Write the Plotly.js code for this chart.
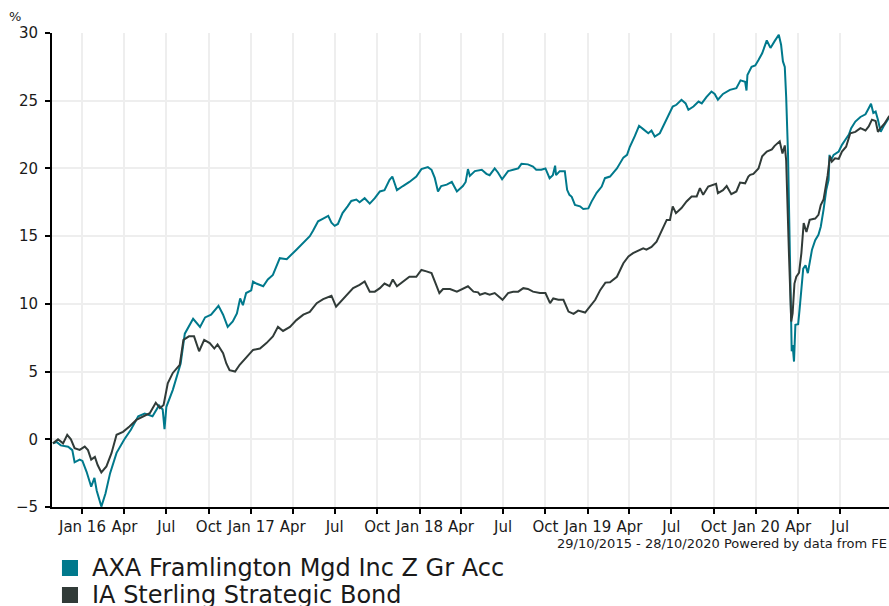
<!DOCTYPE html>
<html>
<head>
<meta charset="utf-8">
<script src="https://cdn.plot.ly/plotly-3.0.1.min.js"></script>
<style>
  html, body { margin: 0; padding: 0; background: #ffffff; }
  #chart { width: 889px; height: 606px; }
</style>
</head>
<body>
<div id="chart"></div>
<script>
// ---- Data ----
const seriesNames = ["AXA Framlington Mgd Inc Z Gr Acc", "IA Sterling Strategic Bond"];
const seriesColors = ["#00798c", "#313b38"];

const datesA = [
"2015-10-29","2015-11-06","2015-11-15","2015-12-01","2015-12-10","2015-12-15","2015-12-26","2016-01-01","2016-01-10","2016-01-20",
"2016-01-27","2016-02-01","2016-02-11","2016-02-20","2016-03-01","2016-03-15","2016-04-01","2016-04-15","2016-05-01","2016-05-15",
"2016-06-01","2016-06-15","2016-06-23","2016-06-27","2016-07-01","2016-07-15","2016-08-01","2016-08-10","2016-08-28","2016-09-12",
"2016-09-23","2016-10-06","2016-10-22","2016-11-01","2016-11-11","2016-11-22","2016-12-01","2016-12-08","2016-12-14","2016-12-21",
"2017-01-01","2017-01-05","2017-01-12","2017-01-27","2017-02-06","2017-02-17","2017-03-04","2017-03-19","2017-04-09","2017-04-24",
"2017-05-08","2017-05-15","2017-05-26","2017-06-06","2017-06-17","2017-06-24","2017-07-01","2017-07-08","2017-07-18","2017-07-29",
"2017-08-06","2017-08-17","2017-08-24","2017-09-04","2017-09-15","2017-09-26","2017-10-07","2017-10-17","2017-10-28","2017-11-03",
"2017-11-13","2017-11-26","2017-12-10","2017-12-25","2018-01-05","2018-01-19","2018-01-27","2018-02-03","2018-02-10","2018-02-17",
"2018-03-01","2018-03-12","2018-03-23","2018-04-05","2018-04-11","2018-04-16","2018-04-20","2018-05-01","2018-05-16","2018-05-26",
"2018-06-02","2018-06-13","2018-06-20","2018-06-29","2018-07-12","2018-07-23","2018-08-03","2018-08-10","2018-08-24","2018-09-04",
"2018-09-11","2018-09-22","2018-10-01","2018-10-10","2018-10-17","2018-10-22","2018-10-24","2018-11-01","2018-11-12","2018-11-17",
"2018-11-22","2018-11-27","2018-12-04","2018-12-15","2018-12-22","2019-01-02","2019-01-09","2019-01-20","2019-01-31","2019-02-07",
"2019-02-18","2019-03-05","2019-03-19","2019-03-27","2019-04-02","2019-04-13","2019-04-22","2019-05-01","2019-05-12","2019-05-19",
"2019-05-26","2019-06-06","2019-06-17","2019-06-24","2019-07-04","2019-07-12","2019-07-23","2019-08-01","2019-08-07","2019-08-18",
"2019-08-29","2019-09-05","2019-09-15","2019-09-26","2019-10-03","2019-10-10","2019-10-21","2019-11-05","2019-11-19","2019-11-28",
"2019-12-08","2019-12-11","2019-12-13","2019-12-22","2019-12-30","2020-01-06","2020-01-14","2020-01-24","2020-02-01","2020-02-10",
"2020-02-19","2020-02-24","2020-02-28","2020-03-03","2020-03-06","2020-03-10","2020-03-13","2020-03-17","2020-03-18","2020-03-20",
"2020-03-23","2020-03-26","2020-04-01","2020-04-04","2020-04-12","2020-04-17","2020-04-22","2020-05-01","2020-05-08","2020-05-15",
"2020-05-20","2020-05-26","2020-06-01","2020-06-06","2020-06-08","2020-06-11","2020-06-17","2020-06-28","2020-07-05","2020-07-12",
"2020-07-20","2020-07-25","2020-08-03","2020-08-14","2020-08-25","2020-09-01","2020-09-06","2020-09-11","2020-09-16","2020-09-21",
"2020-09-27","2020-10-03","2020-10-10","2020-10-15","2020-10-28"
];
const valuesA = [
-0.3,-0.2,-0.45,-0.55,-0.8,-1.7,-1.5,-1.6,-2.4,-3.5,
-2.85,-3.8,-4.97,-4.0,-2.5,-1.0,0.0,0.7,1.7,1.9,
1.7,2.5,2.2,0.75,2.4,3.65,5.6,7.8,8.9,8.3,
9.0,9.2,9.85,9.2,8.3,8.7,9.3,10.4,9.9,10.8,
11.0,11.65,11.5,11.3,11.8,12.14,13.37,13.3,14.0,14.5,
15.0,15.4,16.1,16.3,16.5,16.0,15.76,15.9,16.7,17.2,
17.6,17.7,17.5,17.8,17.4,17.8,18.3,18.4,19.16,19.4,
18.4,18.7,19.0,19.4,19.95,20.1,19.9,19.3,18.3,18.7,
18.8,19.0,18.3,18.7,19.0,19.95,19.45,19.8,19.9,19.6,
19.5,20.0,19.7,19.2,19.8,19.9,20.0,20.34,20.3,20.14,
19.9,19.9,20.0,19.28,19.5,20.2,19.5,19.8,19.8,18.42,
18.05,17.9,17.3,17.2,17.0,17.05,17.55,18.2,18.66,19.28,
19.4,20.0,20.8,21.0,21.6,22.4,23.15,22.9,22.6,22.8,
22.36,22.6,23.35,23.8,24.57,24.7,25.07,24.8,24.33,24.57,
24.94,24.8,25.27,25.68,25.5,25.07,25.5,25.8,25.93,26.5,
26.4,25.75,26.9,27.5,27.6,28.0,28.5,29.45,28.9,29.4,
29.87,29.13,27.9,27.5,25.3,21.1,15.0,8.8,6.5,6.96,
5.74,8.45,8.5,9.56,12.6,12.85,12.27,14.0,14.7,15.1,
15.7,16.94,18.42,19.16,21.0,20.6,21.0,21.25,21.74,22.1,
22.5,22.97,23.46,23.8,24.0,24.45,24.77,24.1,24.2,23.6,
22.7,23.1,23.46,23.76,23.9
];

const datesB = [
"2015-10-29","2015-11-09","2015-11-20","2015-11-29","2015-12-07","2015-12-15","2015-12-26","2016-01-06","2016-01-13","2016-01-20",
"2016-01-28","2016-02-03","2016-02-11","2016-02-22","2016-03-04","2016-03-15","2016-03-29","2016-04-12","2016-04-27","2016-05-11",
"2016-05-26","2016-06-08","2016-06-17","2016-06-25","2016-07-04","2016-07-15","2016-07-30","2016-08-07","2016-08-19","2016-08-30",
"2016-09-03","2016-09-10","2016-09-21","2016-10-03","2016-10-13","2016-10-20","2016-11-01","2016-11-08","2016-11-15","2016-11-27",
"2016-12-07","2016-12-21","2017-01-05","2017-01-20","2017-02-03","2017-02-17","2017-02-28","2017-03-11","2017-03-26","2017-04-09",
"2017-04-24","2017-05-08","2017-05-23","2017-06-06","2017-06-24","2017-07-04","2017-07-15","2017-07-26","2017-08-10","2017-08-24",
"2017-09-04","2017-09-15","2017-09-26","2017-10-07","2017-10-17","2017-10-28","2017-11-04","2017-11-13","2017-11-26","2017-12-10",
"2017-12-25","2018-01-05","2018-01-16","2018-01-27","2018-02-05","2018-02-13","2018-02-21","2018-03-08","2018-03-23","2018-04-05",
"2018-04-16","2018-04-28","2018-05-08","2018-05-12","2018-05-23","2018-06-02","2018-06-13","2018-06-30","2018-07-12","2018-07-23",
"2018-08-03","2018-08-14","2018-08-24","2018-09-04","2018-09-19","2018-10-01","2018-10-11","2018-10-18","2018-10-29","2018-11-09",
"2018-11-20","2018-12-01","2018-12-11","2018-12-26","2019-01-06","2019-01-17","2019-01-28","2019-02-08","2019-02-18","2019-03-05",
"2019-03-19","2019-03-30","2019-04-09","2019-04-24","2019-05-01","2019-05-08","2019-05-19","2019-05-30","2019-06-10","2019-06-21",
"2019-06-28","2019-07-04","2019-07-11","2019-07-23","2019-08-03","2019-08-14","2019-08-25","2019-09-01","2019-09-08","2019-09-19",
"2019-10-06","2019-10-10","2019-10-21","2019-10-29","2019-11-08","2019-11-19","2019-11-27","2019-12-08","2019-12-15","2019-12-19",
"2019-12-26","2020-01-06","2020-01-14","2020-01-24","2020-02-04","2020-02-10","2020-02-21","2020-02-27","2020-03-03","2020-03-06",
"2020-03-12","2020-03-15","2020-03-17","2020-03-20","2020-03-24","2020-03-28","2020-04-03","2020-04-08","2020-04-13","2020-04-19",
"2020-04-26","2020-05-08","2020-05-15","2020-05-20","2020-05-26","2020-06-01","2020-06-04","2020-06-09","2020-06-13","2020-06-20",
"2020-06-28","2020-07-05","2020-07-14","2020-07-23","2020-08-03","2020-08-14","2020-08-25","2020-09-01","2020-09-08","2020-09-16",
"2020-09-21","2020-09-27","2020-10-05","2020-10-15","2020-10-28"
];
const valuesB = [
-0.3,0.0,-0.3,0.33,0.0,-0.66,-0.78,-0.54,-0.8,-1.5,
-1.3,-1.9,-2.45,-2.0,-1.03,0.33,0.55,0.94,1.43,1.7,
1.93,2.7,2.3,2.54,4.14,4.9,5.5,7.34,7.6,7.6,
7.2,6.5,7.34,7.1,6.7,7.0,6.36,5.6,5.1,5.0,
5.5,6.0,6.6,6.7,7.1,7.6,8.3,8.0,8.3,8.8,
9.2,9.4,10.05,10.35,10.6,9.8,10.2,10.67,11.16,11.4,
11.65,10.9,10.9,11.16,11.5,11.3,11.8,11.3,11.65,12.0,
12.0,12.5,12.4,12.27,11.5,10.8,11.1,11.1,10.9,11.1,
11.3,10.9,10.85,10.67,10.8,10.67,10.8,10.3,10.8,10.9,
10.9,11.16,11.1,10.9,10.8,10.8,10.05,10.4,10.3,10.3,
9.43,9.26,9.5,9.36,9.8,10.3,11.03,11.57,11.6,12.0,
13.0,13.5,13.75,14.0,14.1,14.0,14.2,14.6,15.34,16.2,
16.2,17.2,16.7,17.07,17.56,17.93,17.93,18.55,18.05,18.66,
18.86,18.18,18.4,18.7,18.1,18.3,18.96,18.9,19.4,19.53,
19.6,20.0,20.9,21.25,21.4,21.67,22.0,21.1,21.7,20.6,
13.75,10.8,8.7,9.3,11.5,12.0,12.3,13.75,15.96,15.3,
16.2,16.3,16.57,17.3,17.7,18.9,19.5,20.9,20.5,20.75,
20.7,21.25,21.6,22.6,22.7,22.97,22.8,23.1,23.6,23.5,
22.7,23.0,23.3,23.84,23.9
];

const tickDates = [
"2016-01-01","2016-04-01","2016-07-01","2016-10-01",
"2017-01-01","2017-04-01","2017-07-01","2017-10-01",
"2018-01-01","2018-04-01","2018-07-01","2018-10-01",
"2019-01-01","2019-04-01","2019-07-01","2019-10-01",
"2020-01-01","2020-04-01","2020-07-01"
];
const tickLabels = [
"Jan 16","Apr","Jul","Oct",
"Jan 17","Apr","Jul","Oct",
"Jan 18","Apr","Jul","Oct",
"Jan 19","Apr","Jul","Oct",
"Jan 20","Apr","Jul"
];
const yTicks = [-5, 0, 5, 10, 15, 20, 25, 30];
const periodText = "29/10/2015 - 28/10/2020 Powered by data from FE";
const yUnit = "%";

// ---- Chart ----
const FONT = "DejaVu Sans, Verdana, sans-serif";

const traces = [
  { x: datesA, y: valuesA, name: seriesNames[0], type: "scatter", mode: "lines",
    line: { color: seriesColors[0], width: 2 }, showlegend: false, hoverinfo: "skip" },
  { x: datesB, y: valuesB, name: seriesNames[1], type: "scatter", mode: "lines",
    line: { color: seriesColors[1], width: 2 }, showlegend: false, hoverinfo: "skip" }
];

const layout = {
  width: 889, height: 606,
  margin: { l: 52, r: 0, t: 33, b: 99, pad: 0 },
  paper_bgcolor: "#ffffff", plot_bgcolor: "#ffffff",
  font: { family: FONT, color: "#1a1a1a" },
  showlegend: false,
  xaxis: {
    type: "date",
    range: ["2015-10-27", "2020-10-15"],
    tickmode: "array", tickvals: tickDates, ticktext: tickLabels,
    ticks: "outside", ticklen: 5, tickwidth: 2, tickcolor: "#000000",
    showline: true, linecolor: "#000000", linewidth: 2,
    showgrid: true, gridcolor: "#eeeeee", gridwidth: 2,
    zeroline: false, automargin: false,
    tickfont: { family: FONT, size: 15, color: "#1a1a1a" }
  },
  yaxis: {
    range: [-5, 30],
    tickmode: "array", tickvals: yTicks,
    ticks: "outside", ticklen: 5, tickwidth: 2, tickcolor: "#000000",
    ticklabelstandoff: 4,
    showline: true, linecolor: "#000000", linewidth: 2,
    showgrid: true, gridcolor: "#eeeeee", gridwidth: 2,
    zeroline: false, automargin: false,
    tickfont: { family: FONT, size: 15, color: "#1a1a1a" }
  },
  shapes: [
    { type: "rect", xref: "paper", yref: "paper", x0: 0.0119, x1: 0.0311, y0: -0.1118, y1: -0.1456,
      fillcolor: seriesColors[0], line: { width: 0 } },
    { type: "rect", xref: "paper", yref: "paper", x0: 0.0119, x1: 0.0311, y0: -0.1688, y1: -0.2025,
      fillcolor: seriesColors[1], line: { width: 0 } }
  ],
  annotations: [
    { text: yUnit, xref: "paper", yref: "paper", x: -0.044, y: 1.034, xanchor: "center", yanchor: "middle",
      showarrow: false, font: { family: FONT, size: 13, color: "#1a1a1a" } },
    { text: periodText, xref: "paper", yref: "paper", x: 1.0, y: -0.0765, xanchor: "right", yanchor: "middle",
      showarrow: false, font: { family: FONT, size: 13, color: "#1a1a1a" } },
    { text: seriesNames[0], xref: "paper", yref: "paper", x: 0.0454, y: -0.1287, xanchor: "left", yanchor: "middle",
      showarrow: false, font: { family: FONT, size: 24, color: "#1a1a1a" } },
    { text: seriesNames[1], xref: "paper", yref: "paper", x: 0.0454, y: -0.1857, xanchor: "left", yanchor: "middle",
      showarrow: false, font: { family: FONT, size: 24, color: "#1a1a1a" } }
  ]
};

Plotly.newPlot("chart", traces, layout, { staticPlot: true, displayModeBar: false });
</script>
</body>
</html>
